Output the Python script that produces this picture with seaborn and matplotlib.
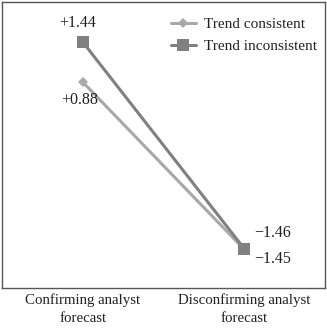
import matplotlib
matplotlib.use("Agg")
import matplotlib.pyplot as plt
import seaborn as sns
import pandas as pd

categories = ["Confirming analyst\nforecast", "Disconfirming analyst\nforecast"]
consistent = [0.88, -1.46]
inconsistent = [1.44, -1.45]
series_names = ["Trend consistent", "Trend inconsistent"]

sns.set_theme(style="white")
plt.rcParams['font.family'] = ['Liberation Serif', 'DejaVu Serif']

df = pd.DataFrame({
    "x": [0, 1, 0, 1],
    "y": consistent + inconsistent,
    "series": [series_names[0]] * 2 + [series_names[1]] * 2,
})

fig = plt.figure(figsize=(3.27, 3.28), dpi=100)
ax = fig.add_axes([2/327, 1 - 288/328, 323/327, 286/328])

palette = {series_names[0]: "#a8a8a8", series_names[1]: "#808080"}
markers = {series_names[0]: "D", series_names[1]: "s"}
sizes = {series_names[0]: 5.5, series_names[1]: 8}
for name in series_names:
    sub = df[df.series == name]
    sns.lineplot(data=sub, x="x", y="y", ax=ax, color=palette[name], marker=markers[name],
                 markersize=sizes[name], markeredgewidth=0, linewidth=2.2, label=name)

ax.set_xlim(-0.5, 1.5)
ax.set_ylim(-2, 2)
ax.set_xticks([0, 1])
ax.set_xticklabels(categories, fontsize=10.7, color="#222222", linespacing=1.45)
ax.set_yticks([])
ax.set_xlabel("")
ax.set_ylabel("")
ax.tick_params(axis="x", length=0, pad=4)
for s in ax.spines.values():
    s.set_color("#555555")
    s.set_linewidth(1.0)

fs = 11.5
ax.text(-0.03, inconsistent[0] + 0.26, "+1.44", ha="center", va="center", fontsize=fs, color="#222222")
ax.text(-0.02, consistent[0] - 0.25, "+0.88", ha="center", va="center", fontsize=fs, color="#222222")
ax.text(1.175, inconsistent[1] + 0.22, "\u22121.46", ha="center", va="center", fontsize=fs, color="#222222")
ax.text(1.175, inconsistent[1] - 0.15, "\u22121.45", ha="center", va="center", fontsize=fs, color="#222222")

leg = ax.legend(loc="upper right", bbox_to_anchor=(1.0, 1.0 - 8/286), frameon=False,
                fontsize=11, handlelength=1.65, handletextpad=0.55, labelspacing=0.55,
                borderaxespad=0.1)
for t in leg.get_texts():
    t.set_color("#222222")

fig.savefig("out.png", dpi=100)
